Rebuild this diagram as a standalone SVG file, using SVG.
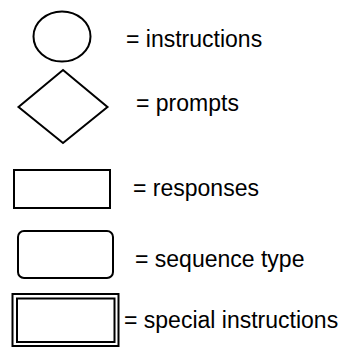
<svg xmlns="http://www.w3.org/2000/svg" width="344" height="348" viewBox="0 0 344 348">
<style>
.s{fill:#fff;stroke:#000;stroke-width:2}
.t{font-family:"Liberation Sans",Arial,sans-serif;font-size:23px;fill:#000}
</style>
<rect width="344" height="348" fill="#fff"/>
<g id="instructions">
<ellipse class="s" cx="62" cy="36.5" rx="28.5" ry="25"/>
<text class="t" x="126" y="47">= instructions</text>
</g>
<g id="prompts">
<polygon class="s" points="63,70 107.5,107 63,143 18.5,107"/>
<text class="t" x="136" y="111">= prompts</text>
</g>
<g id="responses">
<rect class="s" x="14" y="170" width="96" height="38"/>
<text class="t" x="133" y="196">= responses</text>
</g>
<g id="sequence">
<rect class="s" x="18" y="231" width="95" height="47" rx="6"/>
<text class="t" x="135" y="267">= sequence type</text>
</g>
<g id="special">
<rect class="s" x="12.5" y="294" width="106" height="52"/>
<rect class="s" x="17" y="298.5" width="97.5" height="43.5" stroke-width="1.5"/>
<text class="t" x="124" y="328">= special instructions</text>
</g>
<g id="connectors"/>
</svg>
